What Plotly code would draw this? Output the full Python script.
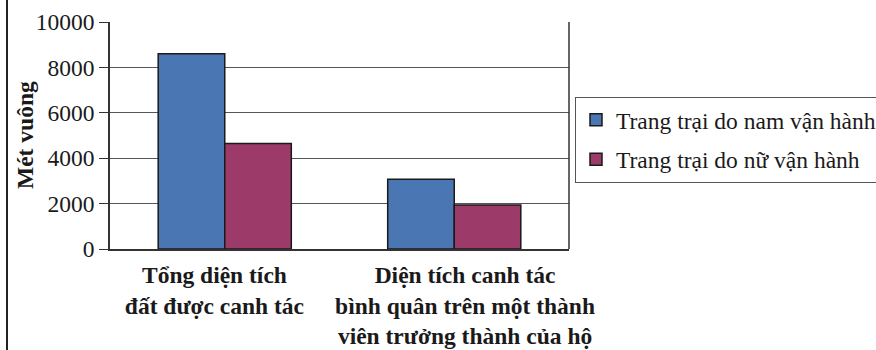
import plotly.graph_objects as go

# Land cultivated, in square metres, by operator gender
categories = [
    "Tổng diện tích<br>đất được canh tác",
    "Diện tích canh tác<br>bình quân trên một thành<br>viên trưởng thành của hộ",
]
male_farms = [8600, 3070]
female_farms = [4650, 1940]
series_names = ["Trang trại do nam vận hành", "Trang trại do nữ vận hành"]
y_ticks = [0, 2000, 4000, 6000, 8000, 10000]
# category label anchors (category index units), spread slightly outward
label_pos = [-0.045, 1.047]

SERIF = "Liberation Serif, 'Times New Roman', serif"
FS = 23.5
W, H = 876, 350
L, R, T, B = 110, 307, 22, 101
plot_w = W - L - R
plot_h = H - T - B

fig = go.Figure()
for name, vals, color, grp in [
    (series_names[0], male_farms, "#4A76B3", "a"),
    (series_names[1], female_farms, "#9C3A69", "b"),
]:
    fig.add_trace(go.Bar(
        x=categories, y=vals, name=name, legendgroup=grp,
        marker=dict(color=color, line=dict(color="#1a1a1a", width=1.5)),
    ))

fig.update_layout(
    width=W, height=H,
    margin=dict(l=L, r=R, t=T, b=B, autoexpand=False),
    paper_bgcolor="white", plot_bgcolor="white",
    barmode="group", bargap=0.42, bargroupgap=0,
    font=dict(family=SERIF, size=FS, color="#1a1a1a"),
    showlegend=True,
    legend=dict(
        x=(575 - L) / plot_w, y=(H - B - 97) / plot_h,
        xanchor="left", yanchor="top",
        bordercolor="#555", borderwidth=1,
        font=dict(family=SERIF, size=FS, color="#1a1a1a"),
        traceorder="grouped", tracegroupgap=6,
    ),
    xaxis=dict(
        type="category", range=[-0.5, 1.5],
        tickmode="array", tickvals=label_pos,
        ticktext=[f"<b>{c}</b>" for c in categories],
        tickfont=dict(family=SERIF, size=FS, color="#1a1a1a"),
        ticklabelstandoff=4,
        showline=True, linecolor="#333", linewidth=1.5,
        ticks="", showgrid=False,
    ),
    yaxis=dict(
        range=[0, 10000], tickvals=y_ticks, tickformat="d",
        tickfont=dict(family=SERIF, size=FS, color="#1a1a1a"),
        ticks="outside", ticklen=9, tickcolor="#333", tickwidth=1,
        showline=True, linecolor="#333", linewidth=1.5,
        showgrid=True, gridcolor="#555", gridwidth=1,
        zeroline=False,
    ),
    annotations=[dict(
        text="<b>Mét vuông</b>", textangle=-90,
        xref="paper", yref="paper",
        x=(25 - L) / plot_w, y=(H - B - 135) / plot_h,
        xanchor="center", yanchor="middle", showarrow=False,
        font=dict(family=SERIF, size=FS, color="#1a1a1a"),
    )],
    shapes=[
        # right edge of the plot frame
        dict(type="line", xref="paper", yref="paper", x0=1, x1=1, y0=0, y1=1,
             line=dict(color="#333", width=1.5)),
        # outer border on the left of the chart
        dict(type="line", xref="paper", yref="paper",
             x0=(7 - L) / plot_w, x1=(7 - L) / plot_w,
             y0=-B / plot_h - 0.01, y1=(H - B) / plot_h + 0.01,
             line=dict(color="#222", width=2)),
    ],
)

fig.write_html("out.html")
